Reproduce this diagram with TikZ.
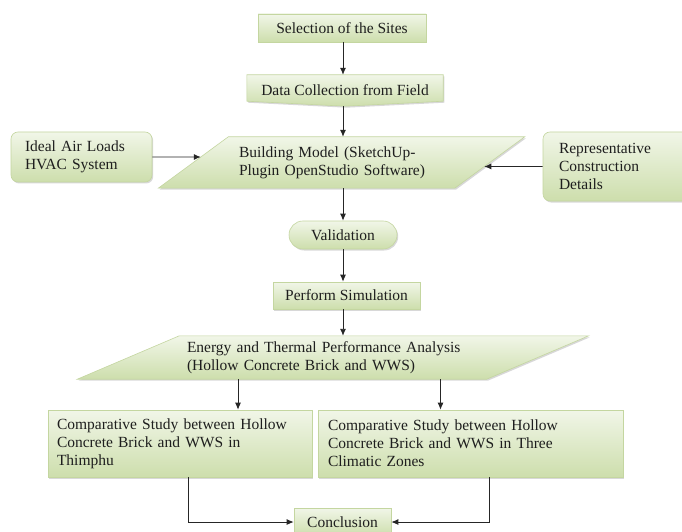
\documentclass[tikz,border=0pt]{standalone}
\usepackage{fontspec}
\setmainfont{Liberation Serif}
\usetikzlibrary{arrows.meta,calc,shadows,backgrounds,positioning}

\definecolor{gline}{RGB}{196,214,160}
\definecolor{gtop}{RGB}{241,246,232}
\definecolor{gbot}{RGB}{205,222,172}
\definecolor{txt}{RGB}{30,30,30}

\tikzset{
  every node/.style={font=\fontsize{15.5}{18}\selectfont, text=txt, inner ysep=0pt},
  box/.style={draw=gline, line width=.6pt, top color=gtop, bottom color=gbot,
    drop shadow={shadow xshift=1.2pt, shadow yshift=-1.5pt, opacity=.3}},
  txtbox/.style={inner sep=0pt},
  arr/.style={-{Latex[length=7pt,width=6pt]}, line width=.9pt, draw=black!85},
}

\begin{document}
\begin{tikzpicture}[x=1pt,y=1pt]
  \useasboundingbox (0,0) rectangle (682,531);

  % boxes
  \node[box, minimum width=168pt, minimum height=28pt] (sel) at (342,503) {Selection of the Sites};
  \node[txtbox, minimum width=196pt, minimum height=31pt] (data) at (345,440.5) {Data Collection from Field};
  \node[box, rounded corners=7pt, minimum height=50pt, text width=113pt, inner xsep=14pt, align=left]
    (ideal) at (81.5,374) {Ideal Air Loads\\HVAC System};
  \node[txtbox, minimum height=51pt, text width=205pt, inner xsep=45.5pt, align=left]
    (bm) at (341.5,368.5) {Building Model (SketchUp-\\Plugin OpenStudio Software)};
  \node[box, rounded corners=7pt, minimum height=69pt, text width=117pt, inner xsep=16pt, align=left]
    (rep) at (617.5,364.5) {Representative\\Construction\\Details};
  \node[box, rounded corners=14pt, minimum width=108pt, minimum height=28pt] (val) at (343,296) {Validation};
  \node[box, minimum width=147pt, minimum height=27pt] (sim) at (346.5,235.5) {Perform Simulation};
  \node[txtbox, minimum height=43pt, text width=292pt, inner xsep=58.5pt, align=left]
    (en) at (333,173.5) {Energy and Thermal Performance Analysis\\(Hollow Concrete Brick and WWS)};
  \node[box, minimum height=67pt, text width=246pt, inner xsep=9pt, align=left]
    (cmpl) at (180,87.5) {Comparative Study between Hollow\\Concrete Brick and WWS in\\Thimphu};
  \node[box, minimum height=67pt, text width=285pt, inner xsep=10pt, align=left]
    (cmpr) at (470.5,87.5) {Comparative Study between Hollow\\Concrete Brick and WWS in Three\\Climatic Zones};
  \node[box, minimum width=97pt, minimum height=28pt] (concl) at (342.5,9) {Conclusion};

  % corners of the slanted shapes
  \coordinate (bmtl) at ($(bm.north west)+(35,0)$);
  \coordinate (bmtr) at ($(bm.north east)+(35,0)$);
  \coordinate (bmbr) at ($(bm.south east)+(-35,0)$);
  \coordinate (bmbl) at ($(bm.south west)+(-35,0)$);

  \begin{scope}[on background layer]
    \fill[white] (0,0) rectangle (682,531);
    \path[box] (data.north west) -- (data.north east) -- ($(data.south east)+(0,5)$)
      -- (data.south) -- ($(data.south west)+(0,5)$) -- cycle;
    \path[box] (bmtl) -- (bmtr) -- (bmbr) -- (bmbl) -- cycle;
    \path[box] ($(en.north west)+(51,0)$) -- ($(en.north east)+(51,0)$)
      -- ($(en.south east)+(-51,0)$) -- ($(en.south west)+(-51,0)$) -- cycle;
  \end{scope}

  % arrows
  \coordinate (ax) at (343,0);
  \draw[arr] (sel.south -| ax) -- (data.north -| ax);
  \draw[arr] (data.south -| ax) -- (bm.north -| ax);
  \draw[arr] (bm.south -| ax) -- (val.north -| ax);
  \draw[arr] (val.south -| ax) -- (sim.north -| ax);
  \draw[arr] (sim.south -| ax) -- (en.north -| ax);

  \coordinate (hl) at (ideal.east -| bm.center);
  \coordinate (hr) at (rep.west -| bm.center);
  \draw[arr] (ideal.east) -- (intersection of ideal.east--hl and bmtl--bmbl);
  \draw[arr] (rep.west) -- (intersection of rep.west--hr and bmtr--bmbr);

  \coordinate (dl) at ([xshift=58pt]cmpl.north);
  \coordinate (dr) at ([xshift=-30pt]cmpr.north);
  \draw[arr] (dl |- en.south) -- (dl);
  \draw[arr] (dr |- en.south) -- (dr);

  \coordinate (cl) at ([xshift=8pt]cmpl.south);
  \coordinate (cr) at ([xshift=19pt]cmpr.south);
  \draw[arr] (cl) |- (concl.west);
  \draw[arr] (cr) |- (concl.east);

\end{tikzpicture}
\end{document}
